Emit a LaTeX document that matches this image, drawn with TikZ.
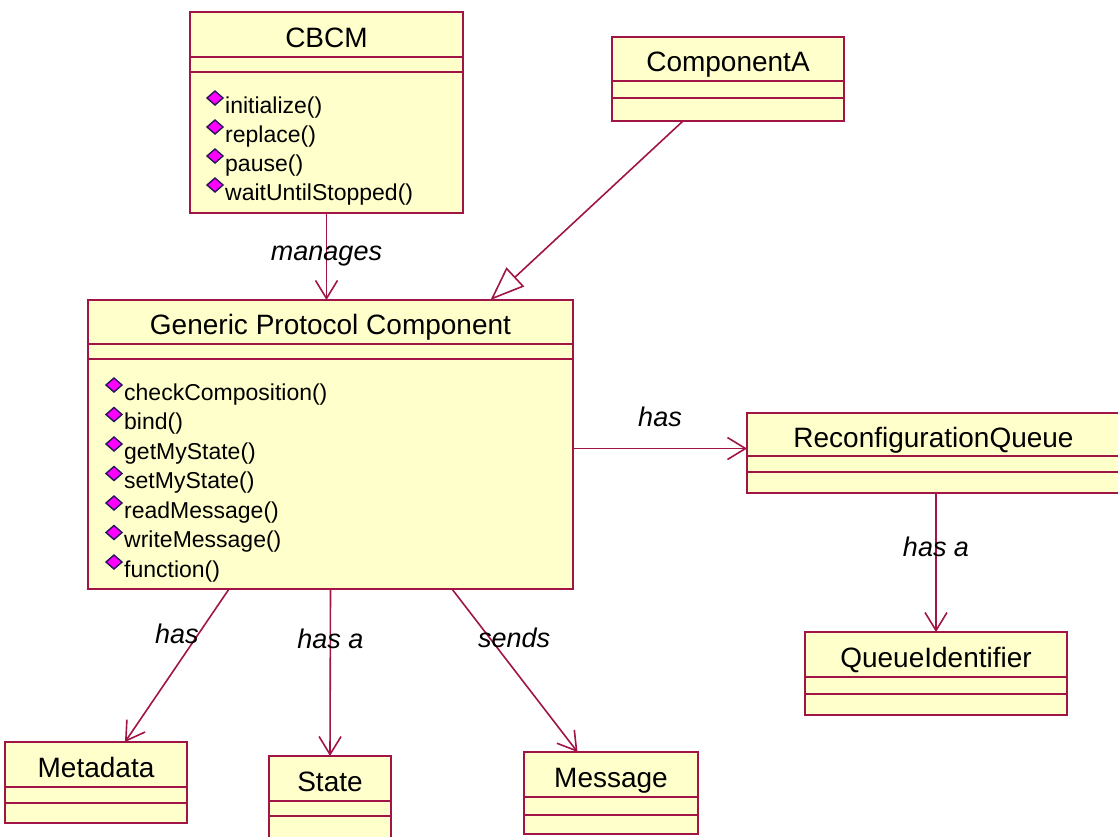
\documentclass[tikz,border=0pt]{standalone}
\usepackage{fontspec}
\setmainfont{Liberation Sans}
\usetikzlibrary{positioning,arrows.meta}

\definecolor{umlline}{RGB}{160,20,70}
\definecolor{umlfill}{RGB}{255,255,204}
\definecolor{opfill}{RGB}{255,0,255}
\definecolor{opedge}{RGB}{40,20,90}

\tikzset{
  classname/.style={text height=25pt, text depth=0pt},
  optext/.style={font=\fontsize{23}{26}\selectfont, inner sep=0pt, anchor=base west},
  opmark/.style={fill=opfill, draw=opedge, line width=1.4pt},
  assoc/.style={draw=umlline, line width=1.6pt, -{Straight Barb[length=18pt,width=22pt]}},
  gen/.style={draw=umlline, line width=1.6pt, -{Triangle[open,length=34pt,width=26pt]}},
  lbl/.style={font=\itshape\fontsize{27}{30}\selectfont, inner sep=0pt}
}

\begin{document}
\begin{tikzpicture}[x=1pt,y=-1pt]
  \useasboundingbox (0,0) rectangle (1118,836);
  \clip (0,0) rectangle (1118,836);

  \begin{scope}[every node/.style={rectangle, draw=umlline, fill=umlfill, line width=1.8pt,
      inner sep=0pt, outer sep=0pt, font=\fontsize{28}{32}\selectfont}]
    % class names
    \node[classname, minimum width=273, minimum height=45] (cbcm)  at (326.5,34.5) {CBCM};
    \node[classname, minimum width=232, minimum height=44] (compa) at (728,59)     {ComponentA};
    \node[classname, minimum width=485, minimum height=44] (gpc)   at (330.5,322)  {Generic Protocol Component};
    \node[classname, minimum width=373, minimum height=43] (rq)    at (933.5,434.5) {ReconfigurationQueue};
    \node[classname, minimum width=262, minimum height=45] (qi)    at (936,654.5)  {QueueIdentifier};
    \node[classname, minimum width=182, minimum height=45] (meta)  at (96,764.5)   {Metadata};
    \node[classname, minimum width=122, minimum height=45] (state) at (330,778.5)  {State};
    \node[classname, minimum width=174, minimum height=45] (msg)   at (611,774.5)  {Message};

    % attribute and operation parts
    \node[minimum width=273, minimum height=15,  below=0pt of cbcm]      (cbcmattr)  {};
    \node[minimum width=273, minimum height=141, below=0pt of cbcmattr]  (cbcmops)   {};
    \node[minimum width=232, minimum height=17,  below=0pt of compa]     (compaattr) {};
    \node[minimum width=232, minimum height=23,  below=0pt of compaattr] (compaops)  {};
    \node[minimum width=485, minimum height=15,  below=0pt of gpc]       (gpcattr)   {};
    \node[minimum width=485, minimum height=230, below=0pt of gpcattr]   (gpcops)    {};
    \node[minimum width=373, minimum height=16,  below=0pt of rq]        (rqattr)    {};
    \node[minimum width=373, minimum height=21,  below=0pt of rqattr]    (rqops)     {};
    \node[minimum width=262, minimum height=17,  below=0pt of qi]        (qiattr)    {};
    \node[minimum width=262, minimum height=21,  below=0pt of qiattr]    (qiops)     {};
    \node[minimum width=182, minimum height=16,  below=0pt of meta]      (metaattr)  {};
    \node[minimum width=182, minimum height=20,  below=0pt of metaattr]  (metaops)   {};
    \node[minimum width=122, minimum height=15,  below=0pt of state]     (stateattr) {};
    \node[minimum width=122, minimum height=30,  below=0pt of stateattr] (stateops)  {};
    \node[minimum width=174, minimum height=18,  below=0pt of msg]       (msgattr)   {};
    \node[minimum width=174, minimum height=19,  below=0pt of msgattr]   (msgops)    {};
  \end{scope}

  % operations
  \foreach \op [count=\i] in {initialize(),replace(),pause(),waitUntilStopped()} {
    \node[optext] (cbcmop\i) at ([xshift=35pt,yshift={-41pt-(\i-1)*29pt}]cbcmops.north west) {\op};
    \filldraw[opmark] ([xshift=-18pt,yshift=15pt]cbcmop\i.base west)
      -- ++(8,-7) -- ++(8,7) -- ++(-8,7) -- cycle;
  }
  \foreach \op [count=\i] in {checkComposition(),bind(),getMyState(),setMyState(),
      readMessage(),writeMessage(),function()} {
    \node[optext] (gpcop\i) at ([xshift=36pt,yshift={-41pt-(\i-1)*29.5pt}]gpcops.north west) {\op};
    \filldraw[opmark] ([xshift=-18pt,yshift=15pt]gpcop\i.base west)
      -- ++(8,-7) -- ++(8,7) -- ++(-8,7) -- cycle;
  }

  % relations
  \coordinate (rqin) at ([yshift=-14pt]rq.west);
  \path (cbcmops.south) edge[assoc] node[lbl] {manages} (cbcmops.south |- gpc.north);
  \path ([xshift=-45pt]compaops.south) edge[gen] ([xshift=160pt]gpc.north);
  \path (gpcops.east |- rqin) edge[assoc] node[lbl, above=21pt] {has} (rqin);
  \path (rqops.south -| qi.north) edge[assoc] node[lbl, pos=0.39] {has a} (qi.north);
  \path ([xshift=-101.5pt]gpcops.south) edge[assoc] node[lbl, pos=0.29, xshift=-22pt] {has} ([xshift=29pt]meta.north);
  \path (gpcops.south) edge[assoc] node[lbl, pos=0.3] {has a} (state.north);
  \path ([xshift=121.5pt]gpcops.south) edge[assoc] node[lbl, pos=0.3, xshift=24.5pt] {sends} ([xshift=-33.5pt]msg.north);

\end{tikzpicture}
\end{document}
